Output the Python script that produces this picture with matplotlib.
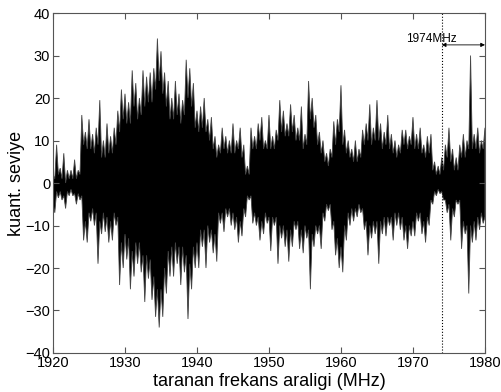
"""Scanned band 1920-1980 MHz, quantised level vs. frequency.

Signal drawn as a filled band whose edges run through the spike tips and the
valleys between them, all read off the original figure (0.25 MHz apart).
"""

import numpy as np
import matplotlib

matplotlib.use("Agg")
import matplotlib.pyplot as plt

plt.rcParams["font.family"] = ["Liberation Sans", "DejaVu Sans"]

F_START, F_STOP = 1920.0, 1980.0
MARKER_F = 1974.0

# upper spike tips, 1920.0 ... 1980.0 in 0.5 MHz steps (5 MHz per row)
TOP = [
    2, 9, 3.5, 7, 3, 3, 5.5, 3, 16, 12,
    15, 11.5, 13, 19.5, 10, 14, 11, 13, 17, 22,
    21, 19, 26.5, 23.5, 20, 26.5, 25, 26, 27, 34,
    31, 26, 24, 20, 24, 21, 19.5, 29, 27, 23.5,
    17, 18, 20, 15, 15.5, 11, 9, 13, 11, 10,
    14, 10, 13, 9, 4, 13, 11, 14, 15.5, 10,
    16, 11, 12.5, 19.5, 17, 14, 18.5, 16, 13, 18,
    11.5, 24, 20, 16, 12, 10, 7, 8, 14.5, 15,
    23, 12.5, 10, 8, 10, 8, 12.5, 14, 18.5, 13,
    19.5, 14, 12, 16, 11.5, 10, 9, 12.5, 12.5, 11,
    15.5, 11.5, 13, 9, 11, 11.5, 5, 4, 6, 9,
    13, 8, 6, 9, 11.5, 10, 30, 11.5, 13, 10,
    13,
]

# upper edge between the tips, 1920.25 ... 1979.75
TOP_VALLEY = [
    1, 2, 1, 0, 1, 1, 1, 2, 9, 8,
    8, 7, 9, 6, 6, 7, 7, 9, 12, 15,
    14, 14, 18, 15, 16, 18, 19, 19, 22, 24,
    21, 18, 15, 15, 16, 14, 16, 20, 18, 13,
    12, 13, 12, 10, 8, 6, 7, 8, 7, 7,
    7, 8, 6, 2, 2, 8, 8, 10, 8, 8,
    8, 8, 10, 12, 11, 11, 12, 10, 10, 8,
    9, 15, 13, 9, 7, 5, 4, 6, 9, 12,
    9, 7, 6, 5, 5, 6, 9, 10, 9, 10,
    10, 8, 9, 8, 7, 6, 7, 9, 8, 9,
    8, 8, 7, 6, 7, 3, 2, 2, 3, 6,
    5, 3, 3, 6, 6, 8, 8, 8, 7, 8,
]

# lower spike tips, 1920.25 ... 1979.75 in 0.5 MHz steps
BOTTOM = [
    -7, -3.5, -4, -6, -3, -3, -5, -4, -13.5, -14,
    -9, -10, -19, -12, -11.5, -14, -13.5, -10, -24, -20,
    -18, -25, -22, -19, -21, -28, -22.5, -27.5, -31.5, -34,
    -31.5, -26, -22, -22, -19, -24, -21, -32, -25, -20,
    -20, -15, -20, -14, -16.5, -18.5, -9.5, -11.5, -8, -10,
    -11, -14, -12.5, -8, -4, -9.5, -10, -13.5, -12, -9.5,
    -16, -10, -19, -13, -15, -18.5, -15, -11, -15.5, -16.5,
    -13, -25, -15, -12, -15.5, -9, -6.5, -11, -17, -20,
    -21, -13.5, -10, -9, -8, -7, -11, -17, -13, -12,
    -19, -12, -12.5, -10, -13.5, -10, -11, -13.5, -15.5, -12.5,
    -12.5, -9, -12, -14, -10, -5, -3, -2.5, -4, -7,
    -13.5, -8, -5, -15.5, -12, -26, -14, -13.5, -11, -9.5,
]

# lower edge between the tips, 1920.0 ... 1980.0
BOTTOM_VALLEY = [
    -5, -2, -2, -3, -2, -1.5, -2.5, -2.5, -3, -9,
    -7, -6, -7, -9, -7, -8, -9, -7, -8, -14,
    -12, -13, -16, -14, -14, -17, -17, -18, -22, -25,
    -25, -20, -16, -15, -14, -15, -15, -17, -19, -15,
    -14, -11, -11, -10, -11, -12, -7, -7, -6, -6,
    -7, -8, -9, -6, -3, -3, -7, -8, -9, -7,
    -8, -8, -8, -10, -10, -11, -11, -9, -9, -11,
    -10, -11, -12, -10, -10, -7, -5, -5, -9, -13,
    -15, -10, -7, -6, -6, -5, -6, -9, -10, -9,
    -9, -9, -8, -8, -8, -7, -7, -8, -10, -10,
    -9, -7, -7, -9, -8, -4, -2, -1.5, -2, -4,
    -5, -6, -4, -4, -9, -10, -10, -9, -8, -7,
    -8,
]

f_top = np.linspace(F_START, F_STOP, len(TOP))
f_mid = f_top[:-1] + 0.25


def interleave(a, b):
    out = np.empty(len(a) + len(b))
    out[0::2], out[1::2] = a, b
    return out


fx = interleave(f_top, f_mid)
upper = interleave(TOP, TOP_VALLEY)
lower = interleave(BOTTOM_VALLEY, BOTTOM)

fig = plt.figure(figsize=(5.01, 3.92), dpi=100)
ax = fig.add_axes([0.1058, 0.0995, 0.8622, 0.8673])

ax.fill(np.concatenate([fx, fx[::-1]]), np.concatenate([upper, lower[::-1]]),
        facecolor="black", edgecolor="#444444", linewidth=0.6)

ax.axvline(MARKER_F, color="black", linestyle=":", linewidth=0.8)

ax.annotate(
    "", xy=(MARKER_F, 32.5), xytext=(F_STOP, 32.5),
    arrowprops=dict(arrowstyle="<|-|>", color="black", lw=0.6,
                    mutation_scale=6, shrinkA=0, shrinkB=0),
)
ax.text(1972.5, 33.8, "1974MHz", ha="center", va="center", fontsize=8.5)

ax.set_xlim(F_START, F_STOP)
ax.set_ylim(-40, 40)
ax.set_xticks(np.arange(1920, 1981, 10))
ax.set_yticks(np.arange(-40, 41, 10))
ax.tick_params(direction="in", top=True, right=True, length=4,
               labelsize=10.5, color="#555555", pad=2)
for spine in ax.spines.values():
    spine.set_color("#555555")
    spine.set_linewidth(0.8)

ax.set_xlabel("taranan frekans araligi (MHz)", fontsize=13, labelpad=2)
ax.set_ylabel("kuant. seviye", fontsize=13, labelpad=0)

fig.savefig("out.png", dpi=100, facecolor="white")
